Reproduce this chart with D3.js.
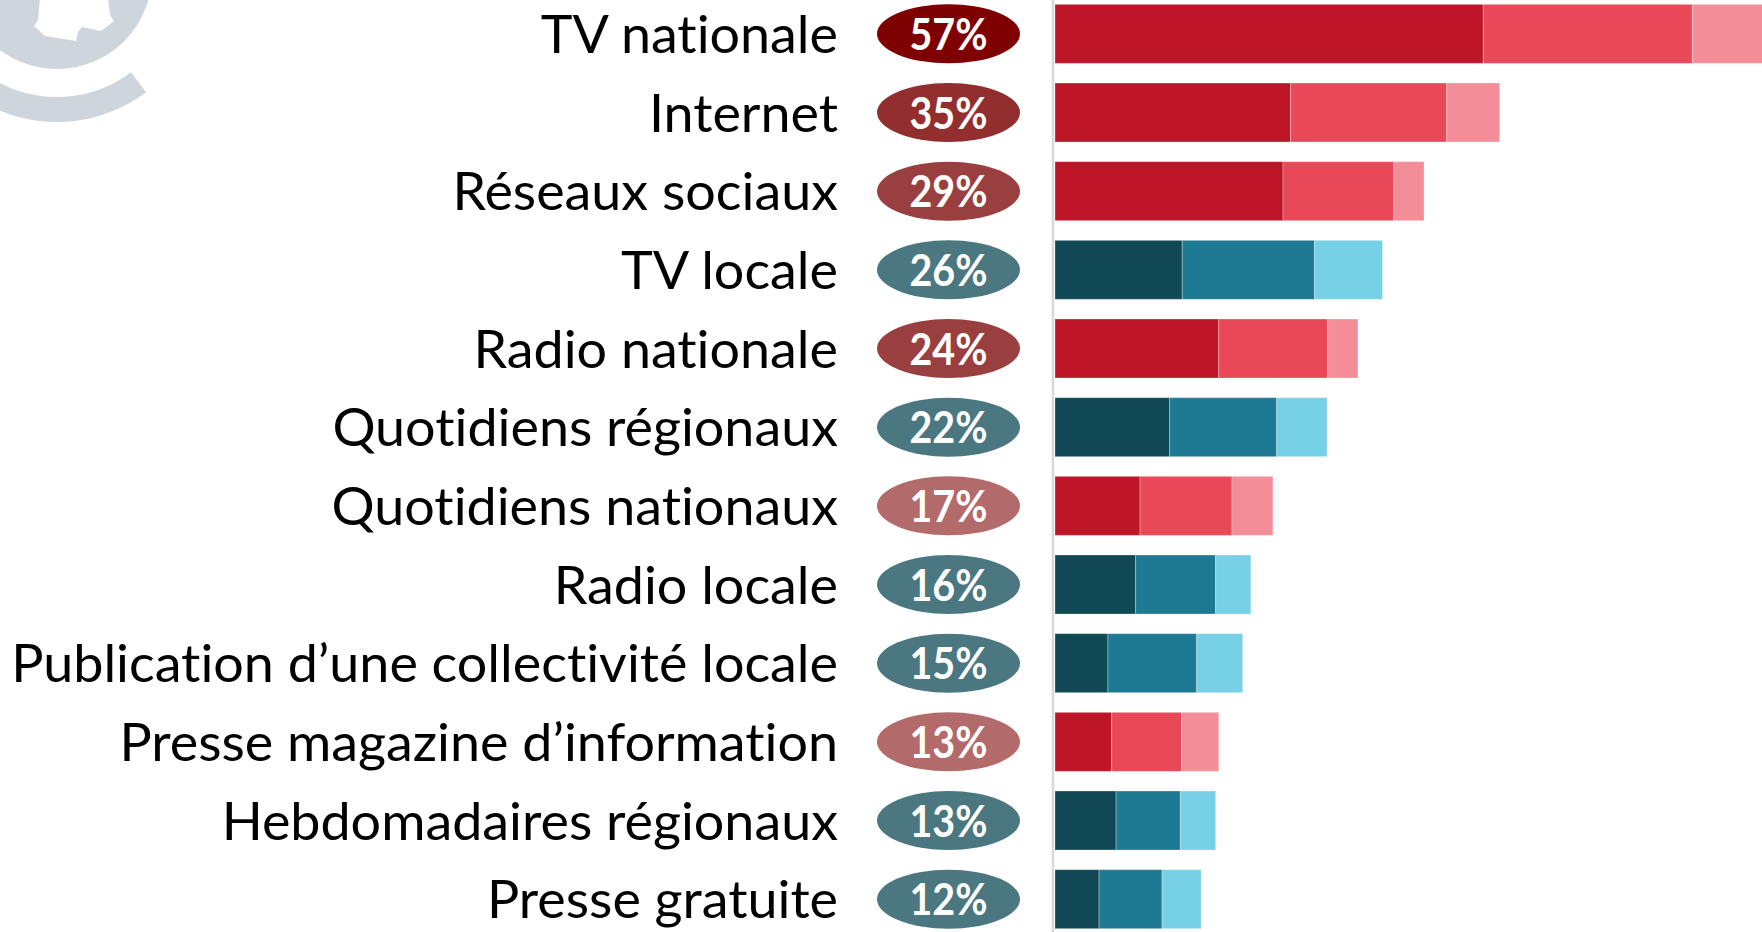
<!DOCTYPE html>
<html>
<head>
<meta charset="utf-8">
<script src="https://cdn.jsdelivr.net/npm/d3@7"></script>
<style>
  html, body { margin: 0; padding: 0; background: #fff; overflow: hidden; }
  text { font-variant-ligatures: none; font-feature-settings: "liga" 0, "clig" 0; }
</style>
</head>
<body>
<div id="chart"></div>
<script>
// media categories, top to bottom
var categories = ["TV nationale", "Internet", "Réseaux sociaux", "TV locale", "Radio nationale",
    "Quotidiens régionaux", "Quotidiens nationaux", "Radio locale",
    "Publication d\u2019une collectivité locale", "Presse magazine d\u2019information",
    "Hebdomadaires régionaux", "Presse gratuite"];
// total shown in the badge (%)
var totals = [57, 35, 29, 26, 24, 22, 17, 16, 15, 13, 13, 12];
// the three stacked parts of each bar (%)
var part1 = [34.0, 18.7, 18.1, 10.1, 13.0, 9.1, 6.75, 6.4, 4.2, 4.5, 4.85, 3.5];
var part2 = [16.6, 12.4, 8.8, 10.5, 8.65, 8.5, 7.3, 6.35, 7.05, 5.55, 5.1, 5.0];
var part3 = [6.4, 4.2, 2.4, 5.4, 2.4, 4.0, 3.25, 2.8, 3.65, 2.95, 2.8, 3.1];
// colour family of each row
var family = ["rouge", "rouge", "rouge", "bleu", "rouge", "bleu", "rouge", "bleu", "bleu", "rouge", "bleu", "bleu"];
// badge shade level of each row
var badgeLevel = [0, 1, 2, 3, 2, 3, 4, 3, 3, 4, 3, 3];

var width = 1762, height = 932;
var barColors = {
    rouge: ["#be1528", "#e94858", "#f38d97"],
    bleu: ["#104955", "#1d7a92", "#76d1e7"]
};
var badgeColors = ["#7f0000", "#932e2e", "#9a3f3f", "#4a7780", "#b36a6a"];
var labelRight = 838, badgeX = 948.5;

var rows = categories.map(function (c, i) {
    return { cat: c, total: totals[i], fam: family[i], lvl: badgeLevel[i], p1: part1[i], p2: part2[i], p3: part3[i] };
});

var svg = d3.select("#chart").append("svg")
    .attr("width", width)
    .attr("height", height)
    .style("display", "block");

// faded logo in the corner
var logo = svg.append("g").attr("transform", "translate(57,-26)").attr("fill", "#cfd5dc");
logo.append("circle").attr("r", 95);
logo.append("path")
    .attr("d", d3.arc().innerRadius(123).outerRadius(148)
        .startAngle(143 * Math.PI / 180).endAngle(262 * Math.PI / 180)());
logo.append("path")
    .attr("fill", "#fff")
    .attr("transform", "translate(-57,26)")
    .attr("d", "M40,-2L108,-2L110,15L114,21L101,31L82,27L78,32L76,41L45,36L34,26L38,20Z");

var yScale = d3.scaleBand()
    .domain(categories)
    .range([-5.5, 938.5])
    .paddingInner(0.25)
    .paddingOuter(0.125);

var xScale = d3.scaleLinear()
    .domain([0, 57])
    .range([1055, 1773]);

// axis line
svg.append("line")
    .attr("x1", 1053).attr("x2", 1053)
    .attr("y1", 0).attr("y2", height)
    .attr("stroke", "#d9d9d9")
    .attr("stroke-width", 2.6);

var stack = d3.stack().keys(["p1", "p2", "p3"]);
var series = stack(rows);

svg.append("g").selectAll("g")
    .data(series)
    .enter().append("g")
    .selectAll("rect")
    .data(function (s, k) { return s.map(function (d) { d.k = k; return d; }); })
    .enter().append("rect")
    .attr("x", function (d) { return xScale(d[0]); })
    .attr("width", function (d) { return xScale(d[1]) - xScale(d[0]); })
    .attr("y", function (d) { return yScale(d.data.cat); })
    .attr("height", yScale.bandwidth())
    .attr("fill", function (d) { return barColors[d.data.fam][d.k]; })
    .attr("stroke", "#fff")
    .attr("stroke-opacity", 0.3)
    .attr("stroke-width", 1);

// category labels
var labels = svg.append("g").selectAll("text")
    .data(rows)
    .enter().append("text")
    .attr("text-anchor", "end")
    .style("font-family", "Lato, 'Open Sans', sans-serif")
    .style("font-size", "52px")
    .attr("fill", "#000")
    .text(function (d) { return d.cat; });

var maxW = d3.max(labels.nodes(), function (n) { return n.getComputedTextLength(); });
var kx = 827 / maxW;
labels.attr("transform", function (d) {
    return "translate(" + labelRight + "," + (yScale(d.cat) + yScale.bandwidth() / 2 + 19) + ")scale(" + kx + ",1)";
});

// badges
var badge = svg.append("g").selectAll("g")
    .data(rows)
    .enter().append("g")
    .attr("transform", function (d) { return "translate(" + badgeX + "," + (yScale(d.cat) + yScale.bandwidth() / 2) + ")"; });

badge.append("ellipse")
    .attr("rx", 71.5)
    .attr("ry", 29.5)
    .attr("fill", function (d) { return badgeColors[d.lvl]; });

var pct = badge.append("text")
    .attr("text-anchor", "middle")
    .attr("fill", "#fff")
    .style("font-family", "Lato, 'Open Sans', sans-serif")
    .style("font-weight", 700)
    .style("font-size", "44px")
    .text(function (d) { return d.total + "%"; });

var pW = pct.filter(function (d, i) { return i === 0; }).node().getComputedTextLength();
var kp = 78 / pW;
pct.attr("transform", "translate(0,16)scale(" + kp + ",1)");
</script>
</body>
</html>
